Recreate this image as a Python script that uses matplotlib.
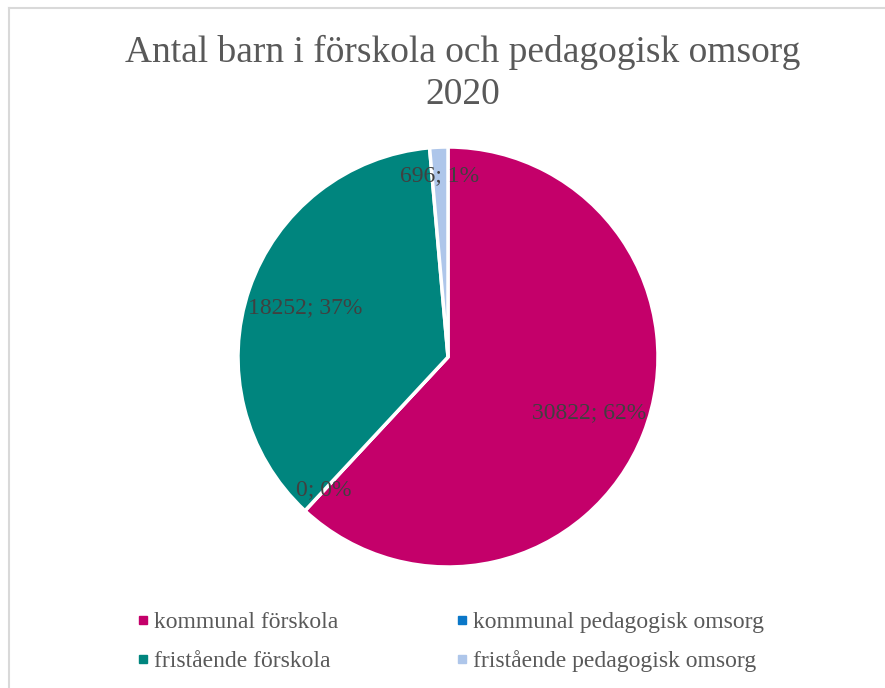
import matplotlib.pyplot as plt
from matplotlib.lines import Line2D
import numpy as np

plt.rcParams['font.family'] = ['Liberation Serif', 'DejaVu Serif']

categories = ['kommunal förskola', 'kommunal pedagogisk omsorg',
              'fristående förskola', 'fristående pedagogisk omsorg']
values = [30822, 0, 18252, 696]
colors = ['#C4006A', '#0A77C8', '#00857E', '#AEC6EA']
legend_order = [0, 2, 1, 3]  # legend fills column-wise

W, H = 885, 688
fig = plt.figure(figsize=(W / 100, H / 100), dpi=100)

# pie area: centre (448, 357), radius 210 px
cx, cy, r = 448, 357, 210
ax = fig.add_axes([(cx - r) / W, (H - cy - r) / H, 2 * r / W, 2 * r / H])
wedges, _ = ax.pie(values, colors=colors, startangle=90, counterclock=False,
                   wedgeprops=dict(edgecolor='white', linewidth=2.5))
ax.set_xlim(-1, 1)
ax.set_ylim(-1, 1)
ax.set_aspect('equal')

total = sum(values)
for w, v in zip(wedges, values):
    mid = np.deg2rad((w.theta1 + w.theta2) / 2)
    d = 0.72 if v / total > 0.05 else 0.865
    ax.text(d * np.cos(mid), d * np.sin(mid), f'{v}; {round(100 * v / total)}%',
            ha='center', va='center', fontsize=17, color='#404040')

fig.text(463 / W, 1 - 52 / H, 'Antal barn i förskola och pedagogisk omsorg',
         ha='center', va='center', fontsize=27, color='#595959')
fig.text(463 / W, 1 - 95 / H, '2020',
         ha='center', va='center', fontsize=27, color='#595959')

handles = [Line2D([], [], marker='s', linestyle='none', markersize=6,
                  markerfacecolor=colors[i], markeredgecolor=colors[i])
           for i in legend_order]
fig.legend(handles, [categories[i] for i in legend_order], ncol=2,
           loc='center left', bbox_to_anchor=(116 / W, 1 - 642 / H),
           frameon=False, fontsize=17, labelcolor='#595959',
           handlelength=0.5, handletextpad=0.2, columnspacing=5.0,
           labelspacing=0.72)

# chart border
fig.add_artist(Line2D([9 / W, 9 / W], [0, 1 - 8 / H], color='#D9D9D9', lw=1.5,
                      transform=fig.transFigure))
fig.add_artist(Line2D([9 / W, 1], [1 - 8 / H, 1 - 8 / H], color='#D9D9D9', lw=1.5,
                      transform=fig.transFigure))

fig.savefig('out.png', dpi=100)
